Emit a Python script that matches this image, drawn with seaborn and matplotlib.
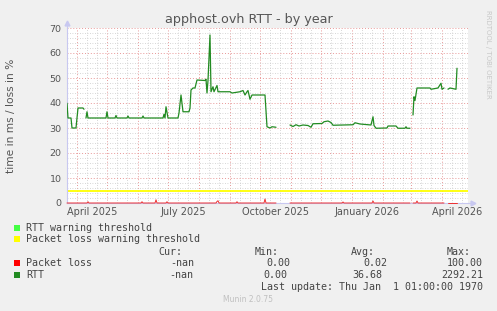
import numpy as np
import pandas as pd
import matplotlib
matplotlib.use("Agg")
import matplotlib.pyplot as plt
import matplotlib.dates as mdates
from matplotlib.ticker import MultipleLocator, NullFormatter
from matplotlib.patches import Rectangle
from matplotlib.transforms import blended_transform_factory
import seaborn as sns

nan = np.nan

# ---------------- data ----------------
ORIGIN = "2025-04-01"          # day offsets are counted from this date
X_START_DAY, X_END_DAY = -10, 391

rtt_day = [-10, -9, -6, -5, -1, 1, 6, 7, 8, 9, 10, 11, 29, 30, 31, 38, 39, 40, 50, 51,
           52, 65, 66, 67, 86, 87, 88, 89, 91, 101, 102, 104, 106, 112, 113, 114, 116,
           118, 120, 128, 129, 130, 131, 133, 134, 136, 137, 140, 141, 153, 155, 163,
           166, 168, 170, 171, 173, 175, 188, 190, 193, 195, 199, 200, 213, 216, 219,
           222, 226, 231, 234, 236, 245, 247, 251, 254, 256, 276, 278, 283, 294, 296,
           297, 299, 310, 311, 319, 321, 328, 329, 330, 333, 334, 336, 337, 338, 340,
           353, 354, 361, 364, 365, 367, 368, 371, 373, 379, 380]
rtt_ms = [39.9, 34, 34, 30, 30, 38, 38, 37.5, nan, 34, 36.5, 34, 34, 36.5, 34, 34, 35, 34,
          34, 34.8, 34, 34, 34.8, 34, 34, 35.5, 34, 38.5, 34, 34, 36, 43.2, 36.5, 36.5, 38,
          45.2, 46, 46, 49.2, 49, 49.5, 44, 49, 67.2, 44.5, 46.5, 44.5, 47, 44.5, 44.5, 44,
          44.5, 45, 43.2, 44.5, 45, 41.5, 43.2, 43.2, 30.5, 30, 30.5, 30.3, nan, 31.2, 30.6,
          31.3, 30.8, 31.2, 31, 30.3, 31.7, 31.8, 32.5, 32.8, 32.2, 31.1, 31.3, 32.1, 31.6,
          31.2, 34.5, 31, 29.9, 30, 30.8, 30.8, 29.9, 29.9, 30.5, 29.9, 29.9, nan, 35.2,
          42.5, 41, 46, 46, 45.5, 46, 47.9, 45.5, 46, nan, 45.5, 46, 45.5, 53.9]

loss_day = [-10, 10, 11, 12, 64, 65, 66, 78, 79, 80, 89, 90, 91, 139, 140, 141, 142, 159,
            160, 161, 187, 188, 189, 199, 200, 213, 265, 266, 267, 295, 296, 297, 333,
            334, 336, 339, 340, 341, 367, 368, 371, 380]
loss_pct = [0, 0, 0.5, 0, 0, 0.5, 0, 0, 1.3, 0, 0, 0.5, 0, 0, 0.6, 0.9, 0, 0, 0.5, 0, 0,
            1.6, 0, 0, nan, 0, 0, 0.4, 0, 0, 0.8, 0, 0, nan, 0, 0, 0.8, 0, 0, nan, 0, 0]

loss_warning = 5

quarter_label_dates = ["2025-04-16", "2025-07-16", "2025-10-16", "2026-01-16", "2026-04-16"]
quarter_labels = ["April 2025", "July 2025", "October 2025", "January 2026", "April 2026"]

y_ticks_max = 70

legend_rows = [
    ("RTT warning threshold", "#44ff44"),
    ("Packet loss warning threshold", "#ffff00"),
]
stat_headers = ["Cur:", "Min:", "Avg:", "Max:"]
stat_rows = [
    ("Packet loss", "#ff0000", ["-nan", "0.00", "0.02", "100.00"]),
    ("RTT", "#228b22", ["-nan", "0.00", "36.68", "2292.21"]),
]
last_update = "Last update: Thu Jan  1 01:00:00 1970"

# ---------------- build frames ----------------
origin = pd.Timestamp(ORIGIN)


def make_frame(days, vals, name):
    df = pd.DataFrame({"day": days, name: vals})
    df["date"] = origin + pd.to_timedelta(df["day"], unit="D")
    df["seg"] = df[name].isna().cumsum()
    return df.dropna(subset=[name])


rtt_df = make_frame(rtt_day, rtt_ms, "rtt")
loss_df = make_frame(loss_day, loss_pct, "loss")

# ---------------- figure ----------------
sns.set_theme(style="white")
plt.rcParams["font.family"] = ["DejaVu Sans"]

W, H = 497, 311
fig = plt.figure(figsize=(W / 100, H / 100), dpi=100, facecolor="#f0f0f0")
ax = fig.add_axes([67 / W, (H - 203) / H, 401 / W, 175 / H])
ax.set_facecolor("white")

ax.set_xlim(origin + pd.Timedelta(days=X_START_DAY), origin + pd.Timedelta(days=X_END_DAY))
ax.set_ylim(0, y_ticks_max)

# grid
ax.xaxis.set_major_locator(mdates.MonthLocator(bymonthday=1))
ax.xaxis.set_minor_locator(mdates.MonthLocator(bymonthday=(11, 21)))
ax.xaxis.set_major_formatter(NullFormatter())
ax.yaxis.set_major_locator(MultipleLocator(10))
ax.yaxis.set_minor_locator(MultipleLocator(2))
ax.grid(which="major", color="#e89898", linestyle=(0, (1, 2)), linewidth=0.7, zorder=0)
ax.grid(which="minor", color="#cacaca", linestyle=(0, (1, 2)), linewidth=0.6, zorder=0)
ax.set_axisbelow(True)

ax.tick_params(axis="x", which="major", length=2, width=0.6, color="#e08080", labelsize=0)
ax.tick_params(axis="x", which="minor", length=0)
ax.tick_params(axis="y", which="major", length=2, width=0.6, color="#c8c8f0",
               labelsize=6.8, labelcolor="#555555", pad=2)
ax.tick_params(axis="y", which="minor", length=1.5, width=0.5, color="#c8c8f0")

for s in ["top", "right"]:
    ax.spines[s].set_visible(False)
for s in ["left", "bottom"]:
    ax.spines[s].set_color("#c8c8f0")
    ax.spines[s].set_linewidth(0.8)

# axis arrows (decoration)
lav = "#c8c8f0"
ax.plot([0, 0], [1.0, 1.03], transform=ax.transAxes, color=lav, lw=0.8, clip_on=False)
ax.plot([0], [1.03], marker="^", ms=3.5, color=lav, transform=ax.transAxes, clip_on=False)
ax.plot([1.0, 1.012], [0, 0], transform=ax.transAxes, color=lav, lw=0.8, clip_on=False)
ax.plot([1.012], [0], marker=">", ms=3.5, color=lav, transform=ax.transAxes, clip_on=False)

# threshold
ax.axhline(loss_warning, color="#ffff00", linewidth=1.3, zorder=2)

# series
sns.lineplot(data=loss_df, x="date", y="loss", units="seg", estimator=None,
             color="#ee3030", linewidth=0.7, ax=ax, zorder=3, clip_on=False)
sns.lineplot(data=rtt_df, x="date", y="rtt", units="seg", estimator=None,
             color="#228b22", linewidth=0.9, ax=ax, zorder=4)
ax.set_xlabel("")
ax.set_ylabel("")

# quarter labels (mid-month, rrdtool style)
tr = blended_transform_factory(ax.transData, fig.transFigure)
for d, lab in zip(quarter_label_dates, quarter_labels):
    ax.text(mdates.date2num(pd.Timestamp(d)), 1 - 212 / H, lab, transform=tr,
            ha="center", va="center", fontsize=7, color="#555555")


def fx(px):
    return px / W


def fy(py):
    return 1 - py / H


fig.text(fx(249), fy(19), "apphost.ovh RTT - by year", ha="center", va="center",
         fontsize=9.2, color="#555555")
fig.text(fx(11), fy(116), "time in ms / loss in %", rotation=90, ha="center", va="center",
         fontsize=7.7, color="#555555")
fig.text(fx(488), fy(54), "RRDTOOL / TOBI OETIKER", rotation=270, ha="center", va="center",
         fontsize=5, color="#c8c8c8")

mono = dict(family="DejaVu Sans Mono", fontsize=7.2, color="#444444", va="center")


def square(x, y, color):
    fig.add_artist(Rectangle((fx(x), fy(y + 3)), 6 / W, 6 / H, transform=fig.transFigure,
                             facecolor=color, edgecolor="none"))


row_y = [227.7, 239.3]
for (lab, col), y in zip(legend_rows, row_y):
    square(14, y, col)
    fig.text(fx(26), fy(y), lab, ha="left", **mono)

head_x = [158, 255, 351, 447]
for h, x in zip(stat_headers, head_x):
    fig.text(fx(x), fy(251.7), h, ha="left", **mono)

col_right = [[194, 290, 387, 483], [193, 287, 382, 483]]
for (lab, col, vals), y, rights in zip(stat_rows, [263.3, 275.0], col_right):
    square(14, y, col)
    fig.text(fx(26), fy(y), lab, ha="left", **mono)
    for v, r in zip(vals, rights):
        fig.text(fx(r), fy(y), v, ha="right", **mono)

fig.text(fx(483), fy(287.3), last_update, ha="right", **mono)
fig.text(fx(248), fy(300), "Munin 2.0.75", ha="center", va="center", fontsize=5.5,
         color="#c0c0c0")

fig.savefig("out.png", dpi=100, facecolor=fig.get_facecolor())
